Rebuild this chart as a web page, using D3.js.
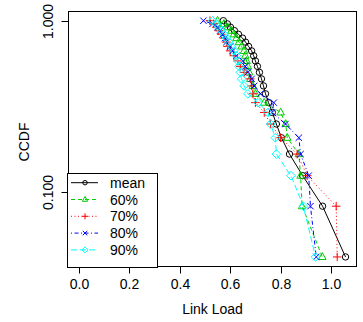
<!DOCTYPE html>
<html><head><meta charset="utf-8">
<script src="https://cdn.jsdelivr.net/npm/d3@7"></script>
<style>body{margin:0;background:#fff}svg{display:block}text{font-family:"Liberation Sans",Arial,Helvetica,sans-serif}</style>
</head><body><svg id="c" width="363" height="322"></svg>
<script>
// CCDF levels (24 samples)
const ccdf = [1.000,0.958,0.917,0.875,0.833,0.792,0.750,0.708,0.667,0.625,0.583,0.542,0.500,0.458,0.417,0.375,0.333,0.292,0.250,0.208,0.167,0.125,0.083,0.042];
const meanLoad = [0.573,0.589,0.601,0.617,0.633,0.649,0.661,0.673,0.685,0.693,0.700,0.708,0.716,0.724,0.732,0.740,0.752,0.767,0.783,0.803,0.835,0.887,0.966,1.057];
const load60 = [0.550,0.575,0.590,0.605,0.615,0.625,0.635,0.645,0.655,0.660,0.665,0.670,0.675,0.680,0.690,0.700,0.735,0.800,0.820,0.826,0.872,0.879,0.885,0.965];
const load70 = [0.520,0.535,0.545,0.555,0.565,0.575,0.585,0.590,0.600,0.615,0.630,0.640,0.655,0.680,0.685,0.690,0.700,0.735,0.760,0.800,0.865,0.905,1.020,1.024];
const load80 = [0.494,0.530,0.550,0.560,0.570,0.580,0.585,0.600,0.610,0.625,0.650,0.660,0.670,0.685,0.695,0.720,0.773,0.766,0.819,0.872,0.879,0.911,0.918,0.941];
const load90 = [0.530,0.545,0.555,0.565,0.575,0.585,0.595,0.605,0.615,0.625,0.630,0.635,0.640,0.645,0.655,0.670,0.710,0.750,0.760,0.779,0.783,0.841,0.890,0.938];
const seriesNames = ["mean","60%","70%","80%","90%"];
const xTicks = [0.0,0.2,0.4,0.6,0.8,1.0];
const xTickLabels = ["0.0","0.2","0.4","0.6","0.8","1.0"];
const yTicks = [1.0,0.1];
const yTickLabels = ["1.000","0.100"];

const svg = d3.select("#c");
const L=68,R=357,T=11,B=267;
const x = d3.scaleLinear().domain([-0.0424,1.1024]).range([L,R]);
const y = d3.scaleLog().domain([0.0367,1.139]).range([B,T]);

const styles = [
  {color:"#000000",dash:null,shape:"circle"},
  {color:"#00CD00",dash:"4,3",shape:"triangle"},
  {color:"#FF0000",dash:"1,2.5",shape:"plus"},
  {color:"#0000FF",dash:"1,2.5,4,2.5",shape:"cross"},
  {color:"#00FFFF",dash:"6,3",shape:"diamond"}
];
const data = [meanLoad,load60,load70,load80,load90];

function marker(g,shape,cx,cy,col,s){
  if(shape==="circle") g.append("circle").attr("cx",cx).attr("cy",cy).attr("r",3.2*s).attr("fill","none").attr("stroke",col);
  else if(shape==="triangle"){const r=4.3*s;g.append("path").attr("d",`M${cx},${cy-r}L${cx+r*0.87},${cy+r*0.6}L${cx-r*0.87},${cy+r*0.6}Z`).attr("fill","none").attr("stroke",col);}
  else if(shape==="plus"){const r=4.3*s;g.append("path").attr("d",`M${cx-r},${cy}H${cx+r}M${cx},${cy-r}V${cy+r}`).attr("stroke",col).attr("fill","none");}
  else if(shape==="cross"){const r=3.2*s;g.append("path").attr("d",`M${cx-r},${cy-r}L${cx+r},${cy+r}M${cx-r},${cy+r}L${cx+r},${cy-r}`).attr("stroke",col).attr("fill","none");}
  else if(shape==="diamond"){const r=4.3*s;g.append("path").attr("d",`M${cx},${cy-r}L${cx+r},${cy}L${cx},${cy+r}L${cx-r},${cy}Z`).attr("stroke",col).attr("fill","none");}
}

const plot = svg.append("g");
data.forEach((vals,i)=>{
  const st=styles[i];
  const pts = vals.map((v,j)=>[x(v),y(ccdf[j])]);
  plot.append("path").attr("d",d3.line()(pts)).attr("fill","none").attr("stroke",st.color).attr("stroke-width",1).attr("stroke-dasharray",st.dash);
  pts.forEach(p=>marker(plot,st.shape,p[0],p[1],st.color,1));
});

// frame
svg.append("rect").attr("x",L+0.5).attr("y",T+0.5).attr("width",R-L-1).attr("height",B-T-1).attr("fill","none").attr("stroke","#000");

// x axis
const xa = svg.append("g");
xTicks.forEach((t,i)=>{
  const px=Math.round(x(t))+0.5;
  xa.append("line").attr("x1",px).attr("x2",px).attr("y1",B).attr("y2",B+6.5).attr("stroke","#000");
  xa.append("text").attr("x",px).attr("y",B+22).attr("text-anchor","middle").attr("font-size",14).text(xTickLabels[i]);
});
svg.append("text").attr("x",(L+R)/2).attr("y",314).attr("text-anchor","middle").attr("font-size",14).text("Link Load");

// y axis
const ya = svg.append("g");
yTicks.forEach((t,i)=>{
  const py=Math.round(y(t))+0.5;
  ya.append("line").attr("x1",L-6.5).attr("x2",L).attr("y1",py).attr("y2",py).attr("stroke","#000");
  ya.append("text").attr("transform",`translate(53,${py}) rotate(-90)`).attr("text-anchor","middle").attr("font-size",14).text(yTickLabels[i]);
});
svg.append("text").attr("transform",`translate(29,142) rotate(-90)`).attr("text-anchor","middle").attr("font-size",14).text("CCDF");

// legend
const lg = svg.append("g");
lg.append("rect").attr("x",67.5).attr("y",173.5).attr("width",90).attr("height",94).attr("fill","#fff").attr("stroke","#000");
seriesNames.forEach((n,i)=>{
  const st=styles[i];
  const ry=182.7+i*16.8;
  lg.append("line").attr("x1",71).attr("x2",98).attr("y1",ry).attr("y2",ry).attr("stroke",st.color).attr("stroke-dasharray",st.dash);
  marker(lg,st.shape,85,ry,st.color,0.7);
  lg.append("text").attr("x",110).attr("y",ry+5).attr("font-size",14).text(n);
});
</script></body></html>
